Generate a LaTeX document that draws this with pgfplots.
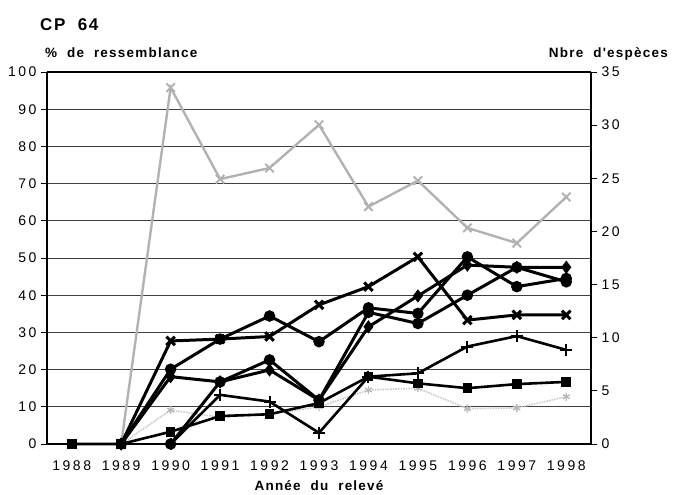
\documentclass[border=0pt]{standalone}
\usepackage{fontspec}
\setmainfont{Liberation Sans}
\newfontfamily\tickfont[LetterSpace=18]{Liberation Sans}
\newfontfamily\labfont[LetterSpace=9]{Liberation Sans}
\usepackage{pgfplots}
\pgfplotsset{compat=1.18}
\begin{document}
\begin{tikzpicture}[x=1pt,y=1pt]
\begin{axis}[
  at={(0,0)}, anchor=south west, scale only axis,
  width=544pt, height=372pt,
  xmin=-0.5, xmax=10.5, ymin=0, ymax=100,
  xtick={0,1,2,3,4,5,6,7,8,9,10},
  xticklabels={1988,1989,1990,1991,1992,1993,1994,1995,1996,1997,1998},
  ytick={0,10,...,100},
  axis y line*=left, axis x line*=bottom,
  ymajorgrids, grid style={black!75, line width=0.6pt},
  axis line style={line width=1.8pt, -},
  tick align=outside,
  ytick style={black, line width=0.8pt}, major tick length=6pt,
  xtick style={draw=none},
  /pgf/number format/assume math mode=true,
  tick label style={font=\fontsize{14}{16}\tickfont},
  xticklabel style={yshift=-7pt},
  yticklabel style={xshift=-1pt},
  clip=false,
]
% gray X series
\addplot[gray!60, line width=2.4pt, mark=x, mark size=6pt, mark options={line width=2pt}]
  coordinates {(1,0)(2,95.8)(3,71.2)(4,74.2)(5,85.8)(6,63.8)(7,70.8)(8,58.1)(9,54.0)(10,66.4)};
% light gray dotted series
\addplot[gray!40, line width=1.6pt, densely dotted, mark=asterisk, mark size=4pt, mark options={solid, line width=1.4pt, draw=gray!55}]
  coordinates {(1,0)(2,9.1)(3,7.2)(4,8.0)(5,10.0)(6,14.5)(7,15.0)(8,9.5)(9,9.7)(10,12.7)};
% square series
\addplot[black, line width=2.6pt, mark=square*, mark size=3.5pt]
  coordinates {(0,0)(1,0)(2,3.3)(3,7.5)(4,8.0)(5,11.0)(6,18.1)(7,16.3)(8,15.0)(9,16.1)(10,16.7)};
% plus series
\addplot[black, line width=2.6pt, mark=+, mark size=6pt, mark options={line width=2pt}]
  coordinates {(2,0)(3,13.2)(4,11.4)(5,3.0)(6,18.1)(7,19.0)(8,26.2)(9,29.0)(10,25.3)};
% circle C
\addplot[black, line width=3pt, mark=*, mark size=4.2pt]
  coordinates {(2,0)(3,16.7)(4,22.6)(5,11.8)(6,35.4)(7,32.4)(8,40.0)(9,47.5)(10,43.6)};
\addplot[black, only marks, mark=square*, mark size=3.5pt] coordinates {(2,0)};
% D
\addplot[black, line width=3pt, mark=diamond*, mark size=4.2pt]
  coordinates {(1,0)(2,18.1)(3,16.7)(4,19.9)(5,11.8)(6,31.5)(7,39.8)(8,48.1)(9,47.5)(10,47.5)};
% circle B
\addplot[black, line width=3pt, mark=*, mark size=4.2pt]
  coordinates {(1,0)(2,20.1)(3,28.2)(4,34.4)(5,27.5)(6,36.6)(7,35.1)(8,50.3)(9,42.3)(10,44.5)};
% X series
\addplot[black, line width=3pt, mark=x, mark size=6pt, mark options={line width=3pt}]
  coordinates {(1,0)(2,27.7)(3,28.2)(4,28.9)(5,37.4)(6,42.3)(7,50.3)(8,33.3)(9,34.7)(10,34.7)};
\end{axis}
\begin{axis}[
  at={(0,0)}, anchor=south west, scale only axis,
  width=544pt, height=372pt,
  xmin=-0.5, xmax=10.5, ymin=0, ymax=35,
  axis y line*=right, axis x line=none,
  ytick={0,5,...,35},
  axis line style={line width=1.8pt, -},
  tick align=outside,
  ytick style={black, line width=0.8pt}, major tick length=6pt,
  /pgf/number format/assume math mode=true,
  tick label style={font=\fontsize{14}{16}\tickfont},
  yticklabel style={xshift=1pt},
]
\addplot[draw=none] coordinates {(0,0)};
\end{axis}
\draw[line width=1.8pt] (0,372) -- (544,372);
\node[anchor=base west, inner sep=0pt, font=\fontsize{17}{19}\labfont\bfseries] at (-7,413) {CP~~64};
\node[anchor=base west, inner sep=0pt, font=\fontsize{13.5}{16}\labfont\bfseries] at (-2,386) {\%~~de~~ressemblance};
\node[anchor=base east, inner sep=0pt, font=\fontsize{13.5}{16}\labfont\bfseries] at (621,386) {Nbre~~d'espèces};
\node[anchor=base, inner sep=0pt, font=\fontsize{13.5}{16}\labfont\bfseries] at (272,-47) {Année~~du~~relevé};
\path[use as bounding box] (-47,-51) rectangle (626,444);
\end{tikzpicture}
\end{document}
